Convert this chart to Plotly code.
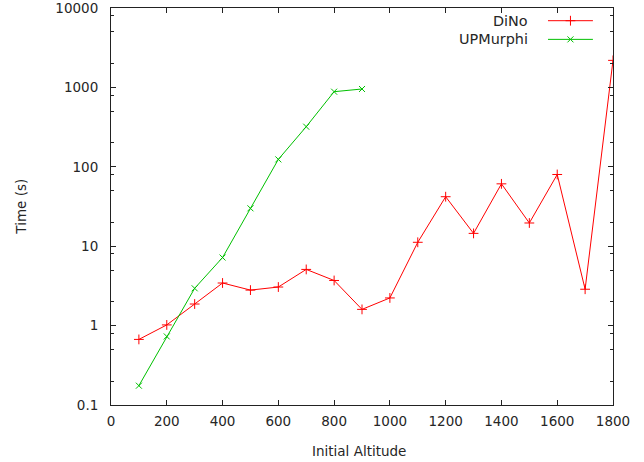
import plotly.graph_objects as go

# Initial altitude (x) and solver run times in seconds (log y)
altitude = [100, 200, 300, 400, 500, 600, 700, 800, 900, 1000,
            1100, 1200, 1300, 1400, 1500, 1600, 1700, 1800]
dino_time = [0.67, 1.02, 1.87, 3.44, 2.8, 3.06, 5.1, 3.7, 1.6, 2.23,
             11.2, 42, 14.5, 61, 19.6, 80, 2.87, 2190]

upm_altitude = [100, 200, 300, 400, 500, 600, 700, 800, 900]
upm_time = [0.175, 0.73, 2.95, 7.2, 30, 124, 320, 883, 955]

x_ticks = [0, 200, 400, 600, 800, 1000, 1200, 1400, 1600, 1800]
y_ticks = [0.1, 1, 10, 100, 1000, 10000]
y_tick_labels = ["0.1", "1", "10", "100", "1000", "10000"]
y_minor = [m * 10 ** e for e in range(-1, 4) for m in (2, 5, 8)]

RED = "#ff0000"
GREEN = "#00c000"
FONT = "DejaVu Sans"
TEXT = "#262626"

fig = go.Figure()

fig.add_trace(go.Scatter(
    x=altitude, y=dino_time, mode="lines+markers", name="DiNo",
    line=dict(color=RED, width=1),
    marker=dict(symbol="cross-thin", size=7, line=dict(color=RED, width=1)),
    showlegend=False,
))
fig.add_trace(go.Scatter(
    x=upm_altitude, y=upm_time, mode="lines+markers", name="UPMurphi",
    line=dict(color=GREEN, width=1),
    marker=dict(symbol="x-thin", size=6, line=dict(color=GREEN, width=1)),
    showlegend=False,
))

# Key samples drawn on a hidden unit overlay axis pair
key_x0, key_x1 = 0.8705, 0.960
key_rows = [(0.968, RED, "cross-thin", 7, "DiNo"),
            (0.921, GREEN, "x-thin", 6, "UPMurphi")]
for ky, col, sym, sz, label in key_rows:
    fig.add_trace(go.Scatter(
        x=[key_x0, key_x1], y=[ky, ky],
        mode="lines", line=dict(color=col, width=1),
        xaxis="x2", yaxis="y2", showlegend=False, hoverinfo="skip",
    ))
    fig.add_trace(go.Scatter(
        x=[(key_x0 + key_x1) / 2], y=[ky], mode="markers",
        marker=dict(symbol=sym, size=sz, line=dict(color=col, width=1)),
        xaxis="x2", yaxis="y2", showlegend=False, hoverinfo="skip",
    ))
    fig.add_annotation(
        x=0.8347, y=ky, xref="paper", yref="paper", text=label,
        showarrow=False, xanchor="right", yanchor="middle",
        font=dict(family=FONT, size=14.4, color=TEXT),
    )

axis_common = dict(
    showgrid=False, zeroline=False, showline=True, linecolor="#222",
    linewidth=1, mirror="ticks", ticks="inside", tickcolor="#222",
    tickwidth=1, ticklen=5, automargin=False, ticklabeloverflow="allow",
    tickfont=dict(family=FONT, size=13.5, color=TEXT),
)

fig.update_layout(
    width=644, height=462,
    margin=dict(l=111, r=31, t=8, b=57),
    paper_bgcolor="white", plot_bgcolor="white",
    xaxis=dict(range=[0, 1800], tickvals=x_ticks, ticklabelstandoff=4,
               **axis_common),
    yaxis=dict(type="log", range=[-1, 4], tickvals=y_ticks,
               ticktext=y_tick_labels, ticklabelstandoff=9,
               minor=dict(tickvals=y_minor, ticks="inside", ticklen=3,
                          tickcolor="#222", tickwidth=1, showgrid=False),
               **axis_common),
    xaxis2=dict(range=[0, 1], overlaying="x", visible=False),
    yaxis2=dict(range=[0, 1], overlaying="y", visible=False),
    showlegend=False,
)

fig.add_annotation(
    x=0.494, y=-0.116, xref="paper", yref="paper", text="Initial Altitude",
    showarrow=False, xanchor="center", yanchor="middle",
    font=dict(family=FONT, size=13.5, color=TEXT),
)
fig.add_annotation(
    x=-0.181, y=0.5, xref="paper", yref="paper", text="Time (s)",
    textangle=-90, showarrow=False, xanchor="center", yanchor="middle",
    font=dict(family=FONT, size=13.5, color=TEXT),
)

fig.write_html("out.html")
